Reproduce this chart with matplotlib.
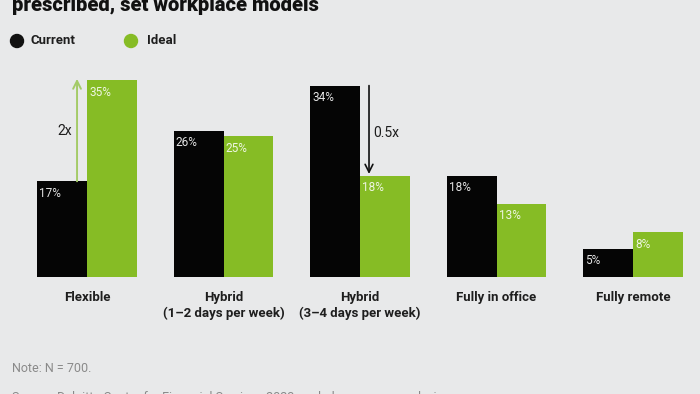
import matplotlib.pyplot as plt
from matplotlib.patches import Ellipse
import numpy as np

# data
categories = ["Flexible", "Hybrid\n(1–2 days per week)", "Hybrid\n(3–4 days per week)",
              "Fully in office", "Fully remote"]
current = [17, 26, 34, 18, 5]
ideal = [35, 25, 18, 13, 8]

bg = "#e8e9ea"
black = "#050505"
green = "#86bc25"

plt.rcParams['font.family'] = ["Roboto", "DejaVu Sans"]

fig = plt.figure(figsize=(7, 3.94), dpi=100, facecolor=bg)
ax = fig.add_axes([0, 117 / 394, 1, 277 / 394])
ax.set_facecolor(bg)

x = np.arange(len(categories))
w = 0.366
ax.bar(x - w / 2, current, w, color=black)
ax.bar(x + w / 2, ideal, w, color=green)
ax.set_xlim(-87 / 136.5, (700 - 87) / 136.5)
ax.set_ylim(0, 277 / 5.63)
ax.axis("off")

# value labels at top-left inside bars
for i in range(len(x)):
    ax.annotate(f"{current[i]}%", (x[i] - w, current[i]), xytext=(1.5, -4),
                textcoords="offset points", ha="left", va="top",
                fontsize=8.5, color="#e4e4e4")
    ax.annotate(f"{ideal[i]}%", (x[i], ideal[i]), xytext=(1.5, -4),
                textcoords="offset points", ha="left", va="top",
                fontsize=8.5, color="#eef6e2")

# category labels
for i, c in enumerate(categories):
    ax.text(x[i], -2.4, c, ha="center", va="top", fontsize=9.5,
            fontweight="bold", color="#1e1e1e", linespacing=1.3)

# change arrows
ax.annotate("", xy=(x[0] - 0.073, 35.2), xytext=(x[0] - 0.073, current[0]),
            arrowprops=dict(arrowstyle="->", color="#a4cb68", lw=1.4,
                            mutation_scale=14, shrinkA=0, shrinkB=0))
ax.text(x[0] - 0.11, 26, "2x", ha="right", va="center", fontsize=10, color="#1e1e1e")
ax.annotate("", xy=(x[2] + 0.066, ideal[2] + 0.3), xytext=(x[2] + 0.066, current[2]),
            arrowprops=dict(arrowstyle="->", color="#111111", lw=1.2,
                            mutation_scale=14, shrinkA=0, shrinkB=0))
ax.text(x[2] + 0.1, 25.5, "0.5x", ha="left", va="center", fontsize=10, color="#1e1e1e")

# title (cut off at the top, as in the source image)
fig.text(12 / 700, 1 - 11 / 394, "prescribed, set workplace models", ha="left",
         va="baseline", fontsize=14.5, fontweight="heavy", color="#111111")

# legend
fig.patches.append(Ellipse((17 / 700, 1 - 41 / 394), 13 / 700, 13 / 394,
                           color="#111111", transform=fig.transFigure))
fig.text(31 / 700, 1 - 41 / 394, "Current", ha="left", va="center", fontsize=9.5,
         fontweight="bold", color="#1e1e1e")
fig.patches.append(Ellipse((131 / 700, 1 - 41 / 394), 13 / 700, 13 / 394,
                           color=green, transform=fig.transFigure))
fig.text(147 / 700, 1 - 41 / 394, "Ideal", ha="left", va="center", fontsize=9.5,
         fontweight="bold", color="#1e1e1e")

# notes
fig.text(12 / 700, 1 - 369 / 394, "Note: N = 700.", ha="left", va="center",
         fontsize=9, color="#8a8a8a")
fig.text(12 / 700, 1 - 398 / 394,
         "Source: Deloitte Center for Financial Services 2023 workplace survey analysis.",
         ha="left", va="center", fontsize=9, color="#8a8a8a")

fig.savefig("out.png", dpi=100, facecolor=bg)
